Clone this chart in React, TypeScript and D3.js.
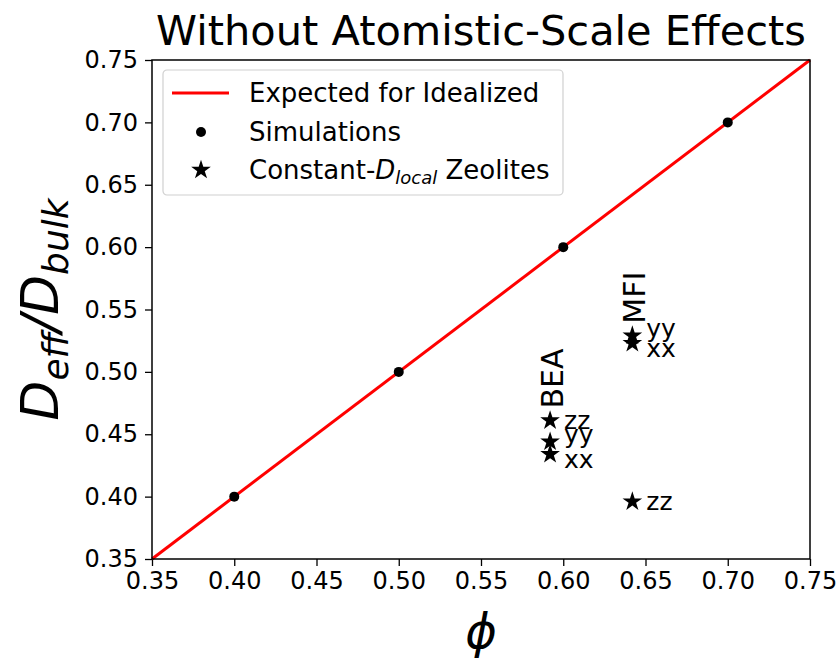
import React, { useEffect, useRef } from "react";
import * as d3 from "d3";

// idealized line end points and simulation points
const idealPhi = [0.35, 0.75];
const simPhi = [0.4, 0.5, 0.6, 0.7];
const simRatio = [0.4, 0.5, 0.6, 0.7];

// constant-D_local zeolites
const zeoName = ["BEA", "BEA", "BEA", "MFI", "MFI", "MFI"];
const zeoDir = ["zz", "yy", "xx", "yy", "xx", "zz"];
const zeoPhi = [0.592, 0.592, 0.592, 0.642, 0.642, 0.642];
const zeoRatio = [0.461, 0.444, 0.434, 0.529, 0.523, 0.396];

const xTicks = [0.35, 0.4, 0.45, 0.5, 0.55, 0.6, 0.65, 0.7, 0.75];
const yTicks = [0.35, 0.4, 0.45, 0.5, 0.55, 0.6, 0.65, 0.7, 0.75];

const App = () => {
  const svgRef = useRef<SVGSVGElement>(null);

  useEffect(() => {
    const W = 839;
    const H = 661;
    const margin = { top: 60, right: 29, bottom: 102, left: 152 };
    const width = W - margin.left - margin.right;
    const height = H - margin.top - margin.bottom;
    const font = "DejaVu Sans, sans-serif";

    let root = d3.select(svgRef.current);
    root.selectAll("*").remove();
    root.attr("width", W).attr("height", H).style("font-family", font);

    const svg = root
      .append("g")
      .attr("transform", `translate(${margin.left}, ${margin.top})`);

    const x = d3.scaleLinear().domain([0.35, 0.75]).range([0, width]);
    const y = d3.scaleLinear().domain([0.35, 0.75]).range([height, 0]);

    // axes
    const xAxis = svg
      .append("g")
      .attr("transform", `translate(0, ${height})`)
      .call(
        d3.axisBottom(x).tickValues(xTicks).tickFormat(d3.format(".2f")).tickSize(7).tickPadding(6)
      );
    const yAxis = svg
      .append("g")
      .call(
        d3.axisLeft(y).tickValues(yTicks).tickFormat(d3.format(".2f")).tickSize(7).tickPadding(7)
      );
    [xAxis, yAxis].forEach((a) => {
      a.select(".domain").remove();
      a.selectAll("line").attr("stroke", "#000").attr("stroke-width", 1.3);
      a.selectAll("text")
        .style("font-family", font)
        .style("font-size", "24px")
        .attr("fill", "#000");
    });

    // ideal line
    const line = d3
      .line<number>()
      .x((d) => x(d))
      .y((d) => y(d));
    svg
      .append("path")
      .datum(idealPhi)
      .attr("d", line)
      .attr("fill", "none")
      .attr("stroke", "red")
      .attr("stroke-width", 3);

    // simulations
    svg
      .selectAll(".sim")
      .data(simPhi)
      .enter()
      .append("circle")
      .attr("class", "sim")
      .attr("cx", (d) => x(d))
      .attr("cy", (d, i) => y(simRatio[i]))
      .attr("r", 5)
      .attr("fill", "#000");

    // stars
    const star = d3.symbol().type(d3.symbolStar).size(120);
    svg
      .selectAll(".zeo")
      .data(zeoPhi)
      .enter()
      .append("path")
      .attr("class", "zeo")
      .attr("d", star)
      .attr("transform", (d, i) => `translate(${x(d)}, ${y(zeoRatio[i])})`)
      .attr("fill", "#000");

    svg
      .selectAll(".zeo-dir")
      .data(zeoPhi)
      .enter()
      .append("text")
      .attr("class", "zeo-dir")
      .attr("x", (d) => x(d) + 14)
      .attr("y", (d, i) => y(zeoRatio[i]) + (zeoDir[i] === "xx" ? 14 : zeoDir[i] === "yy" ? 1 : 8))
      .style("font-size", "25px")
      .text((d, i) => zeoDir[i]);

    // zeolite names, rotated above top star
    const names = Array.from(new Set(zeoName));
    names.forEach((n) => {
      const idx = zeoName.map((z, i) => (z === n ? i : -1)).filter((i) => i >= 0);
      const top = d3.max(idx, (i) => zeoRatio[i]) as number;
      const px = x(zeoPhi[idx[0]]) + 13;
      const py = y(top) - 12;
      svg
        .append("text")
        .attr("transform", `translate(${px}, ${py}) rotate(-90)`)
        .style("font-size", "30px")
        .text(n);
    });

    // frame
    svg
      .append("rect")
      .attr("width", width)
      .attr("height", height)
      .attr("fill", "none")
      .attr("stroke", "#000")
      .attr("stroke-width", 1.5);

    // legend
    const lg = svg.append("g").attr("transform", "translate(11, 10)");
    lg.append("rect")
      .attr("width", 400)
      .attr("height", 125)
      .attr("rx", 4)
      .attr("fill", "#fff")
      .attr("stroke", "#d0d0d0")
      .attr("stroke-width", 1.2);
    lg.append("line")
      .attr("x1", 9)
      .attr("x2", 66)
      .attr("y1", 23)
      .attr("y2", 23)
      .attr("stroke", "red")
      .attr("stroke-width", 3);
    lg.append("circle").attr("cx", 38).attr("cy", 62).attr("r", 5).attr("fill", "#000");
    lg.append("path")
      .attr("d", star)
      .attr("transform", "translate(38, 100)")
      .attr("fill", "#000");
    const lt = (ty: number) =>
      lg.append("text").attr("x", 86).attr("y", ty).style("font-size", "26px");
    lt(32).text("Expected for Idealized");
    lt(71).text("Simulations");
    const t3 = lt(109);
    t3.append("tspan").text("Constant-");
    t3.append("tspan").style("font-style", "italic").text("D");
    t3.append("tspan").style("font-style", "italic").style("font-size", "18px").attr("dy", 5).text("local");
    t3.append("tspan").attr("dy", -5).text(" Zeolites");

    // title
    root
      .append("text")
      .attr("x", margin.left + width / 2)
      .attr("y", 45)
      .attr("text-anchor", "middle")
      .style("font-size", "41.5px")
      .text("Without Atomistic-Scale Effects");

    // x label
    root
      .append("text")
      .attr("x", margin.left + width / 2)
      .attr("y", 648)
      .attr("text-anchor", "middle")
      .style("font-size", "48px")
      .style("font-style", "italic")
      .text("\u03d5");

    // y label
    const yl = root
      .append("text")
      .attr("transform", `translate(58, ${margin.top + height / 2}) rotate(-90)`)
      .attr("text-anchor", "middle")
      .style("font-size", "52px")
      .style("font-style", "italic");
    yl.append("tspan").text("D");
    yl.append("tspan").style("font-size", "36px").attr("dy", 10).text("eff");
    yl.append("tspan").attr("dy", -10).text("/D");
    yl.append("tspan").style("font-size", "36px").attr("dy", 10).text("bulk");
  }, []);

  return <svg ref={svgRef} style={{ display: "block", position: "absolute", left: 0, top: 0 }}></svg>;
};

export default App;
